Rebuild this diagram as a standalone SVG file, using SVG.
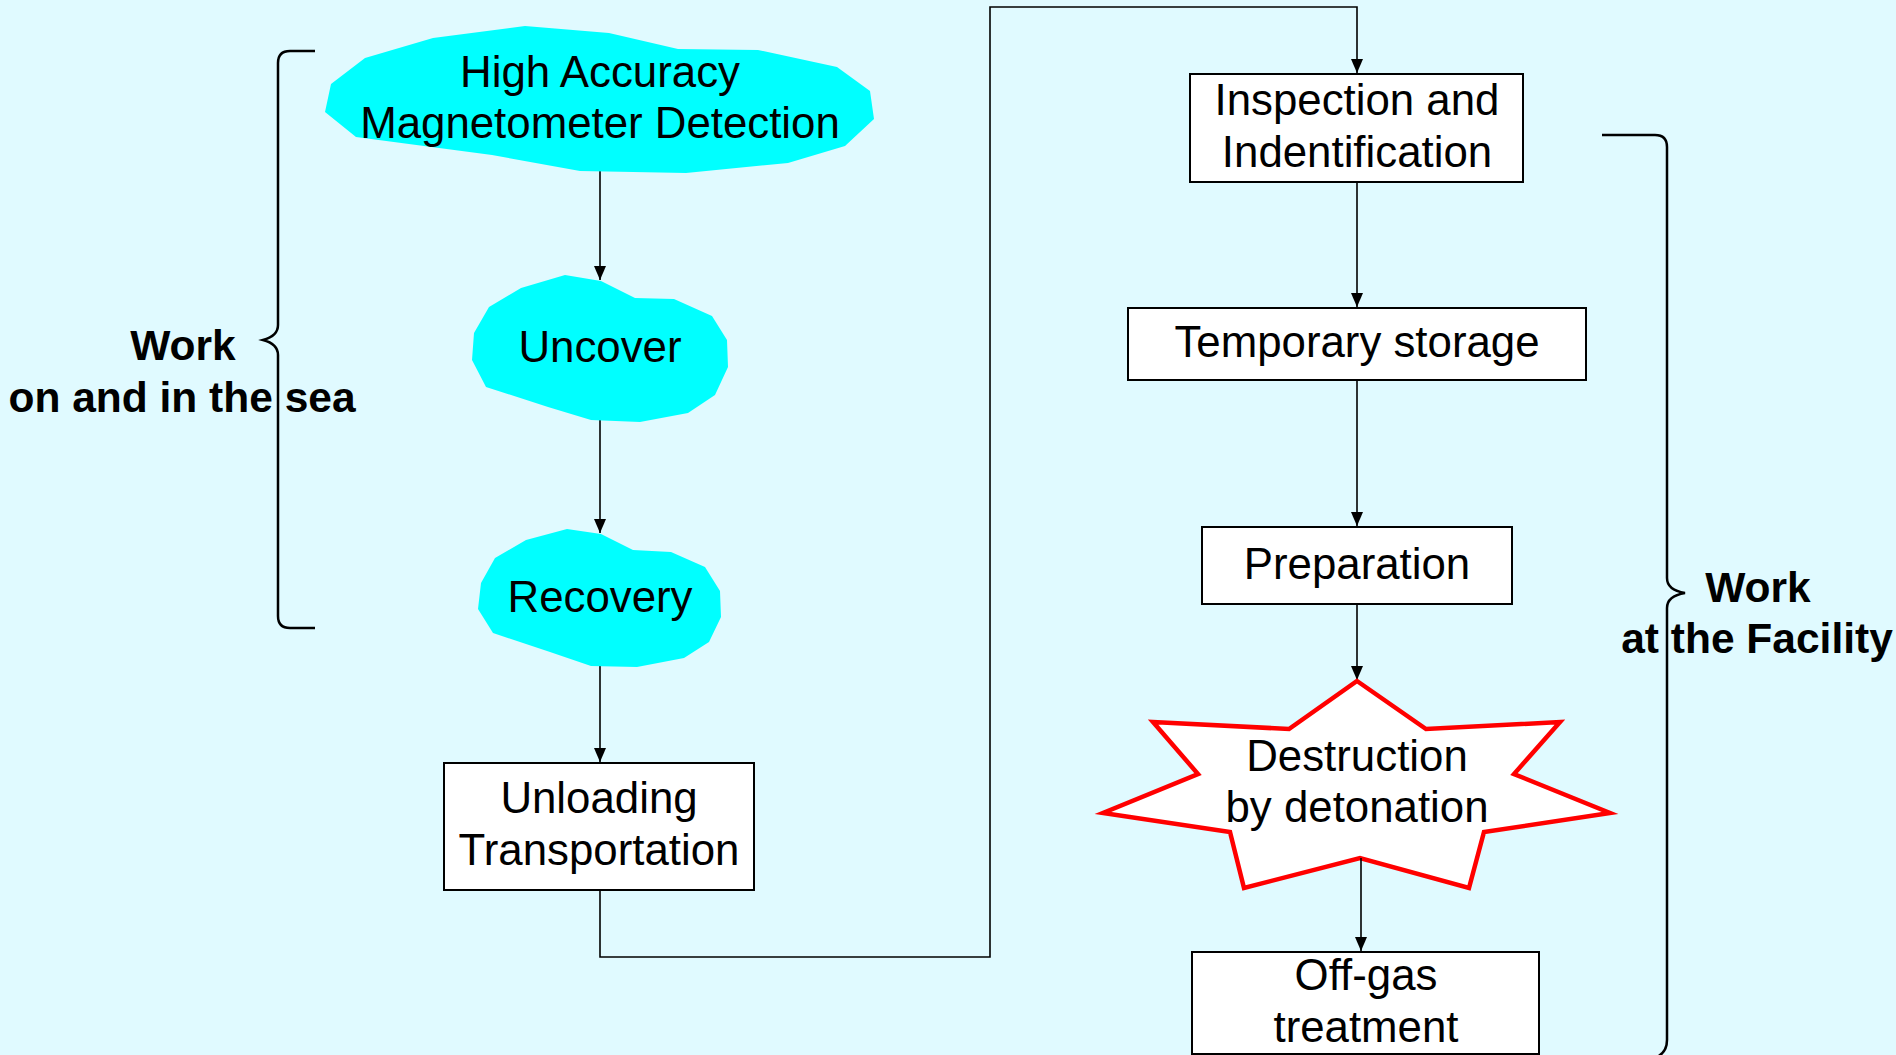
<svg xmlns="http://www.w3.org/2000/svg" width="1896" height="1055" viewBox="0 0 1896 1055">
<style>
.bg{fill:#E0FAFF}
.blob{fill:#00FFFF;stroke:none}
.box{fill:#FFFFFF;stroke:#000;stroke-width:2}
.star{fill:#FFFFFF;stroke:#FF0000;stroke-width:4.5;stroke-linejoin:miter}
.t{font-family:"Liberation Sans",Arial,sans-serif;font-size:43.8px;fill:#000;text-anchor:middle}
.lb{font-family:"Liberation Sans",Arial,sans-serif;font-size:42.5px;font-weight:bold;fill:#000;text-anchor:middle}
.brace{fill:none;stroke:#000;stroke-width:2.5}
.con{fill:none;stroke:#000;stroke-width:1.6}
</style>
<defs>
<marker id="arr" viewBox="0 0 14 12" refX="14" refY="6" markerWidth="14" markerHeight="12" markerUnits="userSpaceOnUse" orient="auto">
<path d="M0,0 L14,6 L0,12 z" fill="#000"/>
</marker>
</defs>
<rect class="bg" x="0" y="0" width="1896" height="1055"/>

<g id="label-sea">
<text class="lb" x="183" y="360">Work</text>
<text class="lb" x="182" y="412">on and in the sea</text>
<path class="brace" d="M315,51 L290,51 Q278,51 278,63 L278,325 Q278,336 263,340 Q278,344 278,355 L278,616 Q278,628 290,628 L315,628"/>
</g>

<g id="label-facility">
<text class="lb" x="1758" y="602">Work</text>
<text class="lb" x="1757" y="653">at the Facility</text>
<path class="brace" d="M1602,135 L1655,135 Q1667,135 1667,147 L1667,578 Q1667,590 1685,593 Q1667,596 1667,608 L1667,1040 Q1667,1053 1655,1058"/>
</g>

<g id="connectors">
<path class="con" d="M600,171 L600,280" marker-end="url(#arr)"/>
<path class="con" d="M600,420 L600,533" marker-end="url(#arr)"/>
<path class="con" d="M600,666 L600,762" marker-end="url(#arr)"/>
<path class="con" d="M600,890 L600,957 L990,957 L990,7 L1357,7 L1357,73" marker-end="url(#arr)"/>
<path class="con" d="M1357,182 L1357,307" marker-end="url(#arr)"/>
<path class="con" d="M1357,380 L1357,526" marker-end="url(#arr)"/>
<path class="con" d="M1357,604 L1357,680" marker-end="url(#arr)"/>
</g>

<g id="n-detection">
<polygon class="blob" points="525,26 609,33 678,49 758,50 837,67 870,91 874,119 845,146 788,163 686,173 580,171 492,155 356,137 325,112 331,84 365,58 433,38"/>
<text class="t" x="600" y="87">High Accuracy</text>
<text class="t" x="600" y="138">Magnetometer Detection</text>
</g>

<g id="n-uncover">
<polygon class="blob" points="565,275 601,281 635,298 674,299 712,316 727,340 728,367 715,395 688,413 640,422 591,420 548,407 486,387 472,360 474,333 489,307 521,288"/>
<text class="t" x="600" y="362">Uncover</text>
</g>

<g id="n-recovery">
<polygon class="blob" points="567,529 601,534 633,550 671,552 705,567 720,591 721,617 709,642 684,658 637,667 591,666 550,652 493,633 478,609 481,583 495,558 526,540"/>
<text class="t" x="600" y="612">Recovery</text>
</g>

<g id="n-unloading">
<rect class="box" x="444" y="763" width="310" height="127"/>
<text class="t" x="599" y="813">Unloading</text>
<text class="t" x="599" y="865">Transportation</text>
</g>

<g id="n-inspection">
<rect class="box" x="1190" y="74" width="333" height="108"/>
<text class="t" x="1357" y="115">Inspection and</text>
<text class="t" x="1357" y="167">Indentification</text>
</g>

<g id="n-storage">
<rect class="box" x="1128" y="308" width="458" height="72"/>
<text class="t" x="1357" y="357">Temporary storage</text>
</g>

<g id="n-preparation">
<rect class="box" x="1202" y="527" width="310" height="77"/>
<text class="t" x="1357" y="579">Preparation</text>
</g>

<g id="n-destruction">
<polygon class="star" points="1357,681 1426,729 1560,722 1514,774 1610,813 1484,832 1469,888 1360,858 1244,888 1230,832 1103,813 1198,774 1153,722 1289,729"/>
<text class="t" x="1357" y="771">Destruction</text>
<text class="t" x="1357" y="822">by detonation</text>
</g>

<g id="connector-last">
<path class="con" d="M1361,858 L1361,951" marker-end="url(#arr)"/>
</g>

<g id="n-offgas">
<rect class="box" x="1192" y="952" width="347" height="102"/>
<text class="t" x="1366" y="990">Off-gas</text>
<text class="t" x="1366" y="1042">treatment</text>
</g>
</svg>
